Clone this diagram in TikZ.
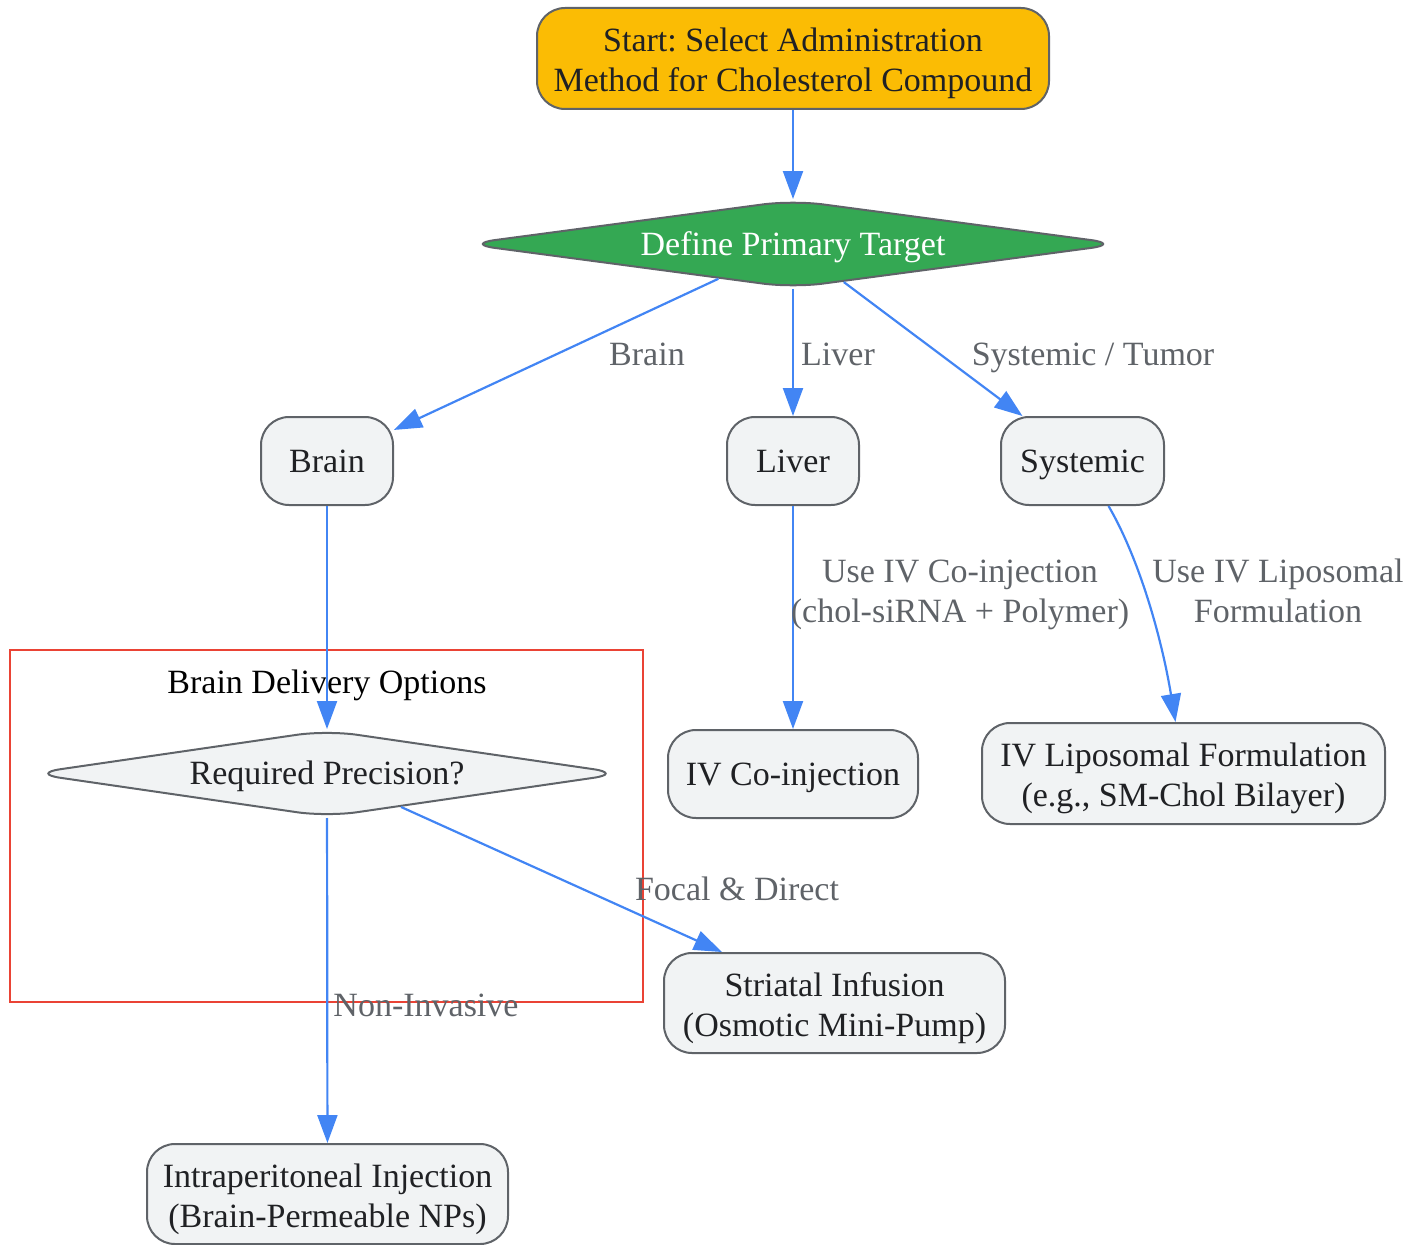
\documentclass[tikz,border=0pt]{standalone}
\usepackage{fontspec}
\setmainfont{Liberation Serif}
\usetikzlibrary{shapes.geometric,arrows.meta}
\definecolor{startf}{HTML}{FBBC04}
\definecolor{greenf}{HTML}{34A853}
\definecolor{nodef}{HTML}{F1F3F4}
\definecolor{bordc}{HTML}{5F6368}
\definecolor{edgec}{HTML}{4285F4}
\definecolor{clusc}{HTML}{EA4335}
\definecolor{txtc}{HTML}{202124}
\definecolor{lblc}{HTML}{5F6368}
\newcommand\lstrut{\rule[-9pt]{0pt}{40pt}}
\newcommand\tstrut{\rule[-9pt]{0pt}{44pt}}
\frenchspacing
\begin{document}
\begin{tikzpicture}[x=1pt,y=-1pt,
  base/.style={font=\fontsize{34}{40}\selectfont\frenchspacing, align=center, inner sep=0pt},
  box/.style={base, draw=bordc, fill=nodef, line width=2pt, rounded corners=28pt, text=txtc},
  dia/.style={base, diamond, draw=bordc, line width=2pt, rounded corners=30pt},
  conn/.style={draw=edgec, line width=2.2pt, -{Triangle[length=28pt,width=20pt]}},
  lbl/.style={base, text=lblc},
]
\useasboundingbox (0,0) rectangle (1423,1244);
% cluster
\draw[clusc, line width=2pt] (10,650) rectangle (643,1002);
\node[base, text=black] (ctitle) at (327,682) {\lstrut Brain Delivery Options};

% nodes
\node[box, fill=startf, minimum width=512pt, minimum height=101pt] (start) at (793,58.5)
  {\tstrut Start: Select Administration\\\lstrut Method for Cholesterol Compound};
\node[dia, fill=greenf, text=white, minimum width=656pt, minimum height=88pt, aspect=7.4] (dpt) at (793,244)
  {\lstrut Define Primary Target};
\node[box, minimum width=132pt, minimum height=88pt] (brain) at (327,461) {\lstrut Brain};
\node[box, minimum width=132pt, minimum height=88pt] (liver) at (793,461) {\lstrut Liver};
\node[box, minimum width=163pt, minimum height=88pt] (sys) at (1082.5,461) {\lstrut Systemic};
\node[dia, fill=nodef, text=txtc, minimum width=593pt, minimum height=87pt, aspect=6.8] (rp) at (327,773.5)
  {\lstrut Required Precision?};
\node[box, minimum width=250pt, minimum height=88pt] (ivc) at (793,774) {\lstrut IV Co-injection};
\node[box, minimum width=403pt, minimum height=101pt] (ivl) at (1183.5,773.5)
  {\tstrut IV Liposomal Formulation\\\lstrut (e.g., SM-Chol Bilayer)};
\node[box, minimum width=341pt, minimum height=100pt] (stri) at (834.5,1003)
  {\tstrut Striatal Infusion\\\lstrut (Osmotic Mini-Pump)};
\node[box, minimum width=361pt, minimum height=100pt] (ip) at (327.5,1194)
  {\tstrut Intraperitoneal Injection\\\lstrut (Brain-Permeable NPs)};

% connectors
\draw[conn] (start) -- (dpt);
\draw[conn] (dpt) -- (brain);
\draw[conn] (dpt) -- (liver);
\draw[conn] (dpt) -- (sys);
\draw[conn] (brain) -- (rp);
\draw[conn] (liver) -- (ivc);
\draw[conn] ([xshift=26pt]sys.south) .. controls (1140,560) and (1162,640) .. ([xshift=-8pt]ivl.north);
\draw[conn] (rp) -- (stri);
\draw[conn] (rp) -- (ip);

% labels
\node[lbl] (lbrain) at (647,354) {\lstrut Brain};
\node[lbl] (lliver) at (838,354) {\lstrut Liver};
\node[lbl] (lsys) at (1093,354) {\lstrut Systemic / Tumor};
\node[lbl] (livc) at (960,591) {\lstrut Use IV Co-injection\\\lstrut (chol-siRNA + Polymer)};
\node[lbl] (livl) at (1278,591) {\lstrut Use IV Liposomal\\\lstrut Formulation};
\node[lbl] (lfoc) at (737,889) {\lstrut Focal \& Direct};
\node[lbl] (lnon) at (426,1005) {\lstrut Non-Invasive};
\end{tikzpicture}
\end{document}
